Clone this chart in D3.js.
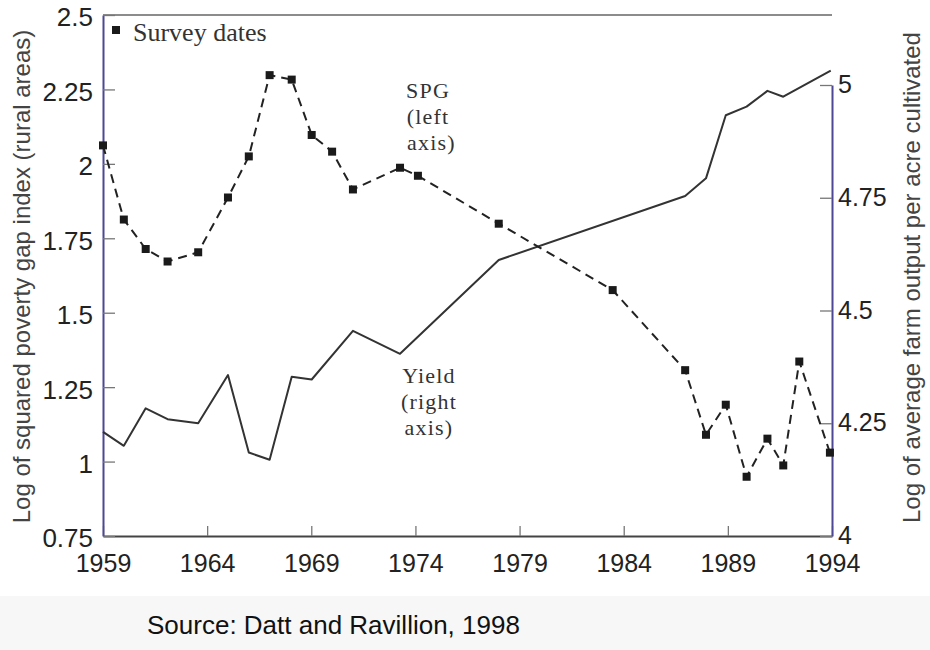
<!DOCTYPE html>
<html>
<head>
<meta charset="utf-8">
<script src="https://cdn.jsdelivr.net/npm/d3@7"></script>
<style>
  html, body { margin: 0; padding: 0; background: #fff; }
  svg { display: block; }
</style>
</head>
<body>
<div id="chart"></div>
<script>
// Survey dates (x of the SPG squares) and SPG values, left axis
const surveyYears = [1959, 1960, 1961.05, 1962.1, 1963.57, 1965, 1966, 1967, 1968.06, 1969.02, 1970, 1971,
    1973.26, 1974.12, 1978, 1983.47, 1986.95, 1987.95, 1988.9, 1989.9, 1990.9, 1991.66, 1992.43, 1993.9]
const spgValues = [2.062, 1.813, 1.714, 1.672, 1.703, 1.887, 2.025, 2.298, 2.283, 2.097, 2.041, 1.914,
    1.987, 1.960, 1.799, 1.576, 1.307, 1.090, 1.191, 0.949, 1.077, 0.987, 1.336, 1.030]

// Yield line vertices, right axis
const yieldYears = [1959, 1960, 1961.05, 1962.1, 1963.57, 1965, 1966, 1967, 1968.06, 1969.02, 1971,
    1973.26, 1978, 1986.95, 1987.95, 1988.9, 1989.9, 1990.9, 1991.66, 1993.94]
const yieldValues = [4.231, 4.200, 4.283, 4.259, 4.250, 4.357, 4.185, 4.169, 4.353, 4.347, 4.455,
    4.404, 4.612, 4.754, 4.793, 4.933, 4.952, 4.987, 4.974, 5.032]

// Ticks
const yearTicks = [1959, 1964, 1969, 1974, 1979, 1984, 1989, 1994]
const leftTicks = [0.75, 1, 1.25, 1.5, 1.75, 2, 2.25, 2.5]
const rightTicks = [4, 4.25, 4.5, 4.75, 5]

const width = 930
const height = 650
const margin = { top: 15, right: 98, bottom: 114, left: 103 }
const plotRight = width - margin.right
const plotBottom = height - margin.bottom

const sans = '"Liberation Sans", Arial, sans-serif'
const serif = '"Liberation Serif", "Times New Roman", serif'
const ink = '#222'
const axisBlue = '#4d4794'

const svg = d3.select('#chart').append('svg')
    .attr('width', width)
    .attr('height', height)

// footer band
svg.append('rect')
    .attr('x', 0).attr('y', 596)
    .attr('width', width).attr('height', height - 596)
    .attr('fill', '#f7f7f7')

// Scales
const x = d3.scaleLinear().domain([1959, 1994]).range([margin.left, plotRight])
const yLeft = d3.scaleLinear().domain([0.75, 2.5]).range([plotBottom, margin.top])
const yRight = d3.scaleLinear().domain([4, 5]).range([plotBottom, 85])

// top frame line
svg.append('line')
    .attr('x1', margin.left).attr('x2', plotRight)
    .attr('y1', margin.top).attr('y2', margin.top)
    .attr('stroke', '#666').attr('stroke-width', 1.5)

// Axes
const styleAxis = (g, color, size) => {
    g.select('.domain').attr('stroke', color).attr('stroke-width', 2)
    g.selectAll('.tick line').attr('stroke', '#777').attr('stroke-width', 1.3)
    g.selectAll('.tick text')
        .attr('fill', '#222')
        .style('font-family', sans)
        .style('font-size', size)
}

svg.append('g')
    .attr('transform', `translate(0, ${plotBottom})`)
    .call(d3.axisBottom(x).tickValues(yearTicks).tickFormat(d3.format('d'))
        .tickSize(-10).tickSizeOuter(0).tickPadding(18))
    .call(g => styleAxis(g, '#444', '25px'))

svg.append('g')
    .attr('transform', `translate(${margin.left}, 0)`)
    .call(d3.axisLeft(yLeft).tickValues(leftTicks).tickFormat(d => String(d))
        .tickSize(-12).tickSizeOuter(0).tickPadding(10))
    .call(g => styleAxis(g, axisBlue, '26px'))
    .call(g => g.selectAll('.tick text').attr('dy', '0.42em'))

svg.append('g')
    .attr('transform', `translate(${plotRight}, 0)`)
    .call(d3.axisRight(yRight).tickValues(rightTicks).tickFormat(d => String(d))
        .tickSize(-12).tickSizeOuter(0).tickPadding(6))
    .call(g => styleAxis(g, axisBlue, '25px'))
    .call(g => g.selectAll('.tick text').attr('dy', '0.3em'))

// Axis titles
svg.append('text')
    .attr('transform', `translate(30, ${(margin.top + plotBottom) / 2 + 1}) rotate(-90)`)
    .attr('text-anchor', 'middle')
    .style('font-family', sans).style('font-size', '24px')
    .attr('fill', '#444')
    .text('Log of squared poverty gap index (rural areas)')

svg.append('text')
    .attr('transform', `translate(920, ${(margin.top + plotBottom) / 2 + 2}) rotate(-90)`)
    .attr('text-anchor', 'middle')
    .style('font-family', sans).style('font-size', '24px')
    .attr('fill', '#444')
    .text('Log of average farm output per acre cultivated')

// Yield line
const yieldLine = d3.line()
    .x(d => x(d[0]))
    .y(d => yRight(d[1]))
svg.append('path')
    .datum(d3.zip(yieldYears, yieldValues))
    .attr('d', yieldLine)
    .attr('fill', 'none')
    .attr('stroke', '#333')
    .attr('stroke-width', 2)
    .attr('stroke-linejoin', 'round')

// SPG dashed line + survey squares
const spgData = d3.zip(surveyYears, spgValues)
const spgLine = d3.line()
    .x(d => x(d[0]))
    .y(d => yLeft(d[1]))
svg.append('path')
    .datum(spgData)
    .attr('d', spgLine)
    .attr('fill', 'none')
    .attr('stroke', ink)
    .attr('stroke-width', 2)
    .attr('stroke-dasharray', '9,6')

const markerSize = 8
svg.append('g')
    .selectAll('rect')
    .data(spgData)
    .join('rect')
    .attr('x', d => x(d[0]) - markerSize / 2)
    .attr('y', d => yLeft(d[1]) - markerSize / 2)
    .attr('width', markerSize)
    .attr('height', markerSize)
    .attr('fill', '#1a1a1a')

// Legend
const legend = svg.append('g').attr('transform', 'translate(116, 30)')
legend.append('rect')
    .attr('x', -markerSize / 2).attr('y', -markerSize / 2)
    .attr('width', markerSize).attr('height', markerSize)
    .attr('fill', '#1a1a1a')
legend.append('text')
    .attr('x', 17).attr('y', 11)
    .style('font-family', serif).style('font-size', '26px')
    .attr('fill', '#333')
    .text('Survey dates')

// In-plot labels, one text per line
const addLabel = (lines, cx, y0, step) => {
    svg.append('g')
        .selectAll('text')
        .data(lines)
        .join('text')
        .style('font-family', serif).style('font-size', '22px')
        .style('letter-spacing', '1.2px')
        .attr('fill', '#333')
        .attr('text-anchor', 'middle')
        .attr('x', cx)
        .attr('y', (_, i) => y0 + i * step)
        .text(d => d)
}
addLabel(['SPG', '(left', '\u00a0axis)'], 428, 98, 26)
addLabel(['Yield', '(right', 'axis)'], 429, 383, 26)

// Source
svg.append('text')
    .attr('x', 147).attr('y', 634)
    .style('font-family', sans).style('font-size', '26px')
    .attr('fill', '#111')
    .text('Source: Datt and Ravillion, 1998')
</script>
</body>
</html>
